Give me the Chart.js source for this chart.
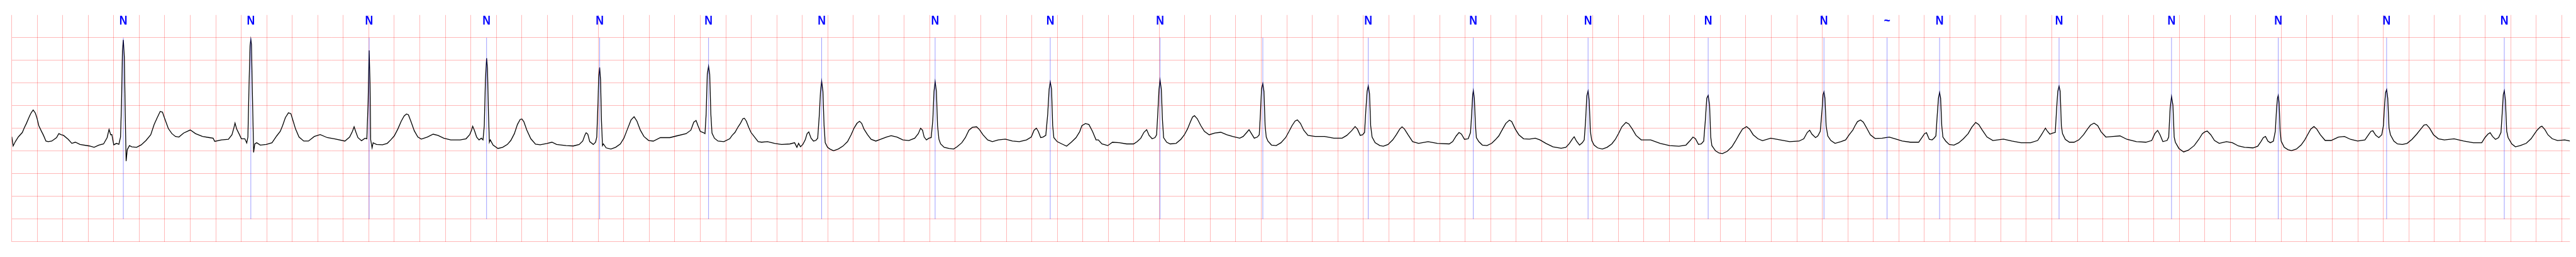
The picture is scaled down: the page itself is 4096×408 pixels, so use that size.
<!DOCTYPE html>
<html>
<head>
<meta charset="utf-8">
<script src="https://cdn.jsdelivr.net/npm/chart.js@4"></script>
<style>
  html, body { margin: 0; padding: 0; background: #ffffff; }
  #c { display: block; }
</style>
</head>
<body>
<canvas id="c" width="4096" height="408"></canvas>
<script>
// ---- data (time in s, amplitude in mV) ----
const ecgTime = [
0.000,0.011,0.028,0.052,0.083,0.098,0.115,0.139,0.153,0.168,0.185,0.198,0.212,0.231,0.249,0.268,0.286,0.314,0.351,0.369,
0.388,0.406,0.443,0.471,0.499,0.536,0.609,0.646,0.683,0.720,0.748,0.763,0.776,0.785,0.800,0.822,0.840,0.853,0.861,0.868,
0.875,0.883,0.890,0.897,0.906,0.923,0.942,0.979,1.016,1.053,1.090,1.117,1.141,1.164,1.182,1.200,1.228,1.256,1.284,1.311,
1.348,1.400,1.441,1.496,1.551,1.579,1.592,1.644,1.699,1.727,1.742,1.751,1.764,1.782,1.801,1.828,1.843,1.852,1.862,1.869,
1.875,1.880,1.887,1.897,1.906,1.921,1.949,1.995,2.041,2.078,2.106,2.124,2.146,2.170,2.189,2.207,2.226,2.253,2.290,2.327,
2.373,2.419,2.475,2.530,2.613,2.650,2.672,2.685,2.700,2.715,2.743,2.771,2.785,2.795,2.803,2.810,2.815,2.826,2.834,2.861,
2.908,2.945,2.972,3.000,3.028,3.055,3.078,3.096,3.111,3.133,3.157,3.185,3.212,3.259,3.305,3.342,3.388,3.443,3.517,3.563,
3.591,3.606,3.615,3.628,3.646,3.665,3.683,3.696,3.706,3.715,3.724,3.731,3.739,3.746,3.753,3.775,3.813,3.850,3.887,3.914,
3.942,3.966,3.988,4.001,4.016,4.040,4.071,4.108,4.145,4.200,4.237,4.274,4.348,4.404,4.450,4.478,4.496,4.505,4.518,4.533,
4.561,4.579,4.588,4.598,4.603,4.611,4.618,4.625,4.633,4.640,4.662,4.699,4.736,4.773,4.801,4.829,4.857,4.881,4.903,4.930,
4.958,4.995,5.032,5.087,5.161,5.215,5.289,5.326,5.349,5.367,5.382,5.400,5.422,5.437,5.446,5.455,5.465,5.474,5.483,5.492,
5.511,5.539,5.585,5.631,5.650,5.672,5.697,5.715,5.734,5.746,5.761,5.780,5.798,5.826,5.854,5.881,5.927,5.983,6.038,6.103,
6.140,6.158,6.171,6.186,6.204,6.223,6.238,6.251,6.269,6.288,6.306,6.321,6.334,6.343,6.352,6.362,6.371,6.380,6.398,6.417,
6.445,6.482,6.518,6.555,6.583,6.607,6.629,6.649,6.666,6.684,6.712,6.740,6.777,6.814,6.860,6.897,6.943,6.989,7.036,7.082,
7.110,7.128,7.143,7.156,7.174,7.193,7.211,7.224,7.233,7.242,7.252,7.261,7.272,7.285,7.313,7.350,7.387,7.414,7.451,7.479,
7.507,7.534,7.567,7.590,7.617,7.654,7.691,7.737,7.793,7.848,7.903,7.959,7.996,8.018,8.036,8.051,8.070,8.088,8.110,8.125,
8.136,8.145,8.155,8.164,8.173,8.199,8.236,8.273,8.310,8.347,8.375,8.393,8.421,8.448,8.476,8.504,8.522,8.550,8.596,8.633,
8.689,8.744,8.799,8.827,8.855,8.879,8.901,8.920,8.944,8.966,8.979,8.988,8.998,9.006,9.016,9.025,9.034,9.058,9.086,9.132,
9.169,9.197,9.221,9.243,9.261,9.276,9.298,9.326,9.354,9.391,9.437,9.483,9.529,9.575,9.631,9.658,9.686,9.704,9.723,9.745,
9.769,9.784,9.793,9.802,9.812,9.821,9.830,9.839,9.852,9.880,9.917,9.954,9.991,10.018,10.041,10.065,10.083,10.107,10.133,10.166,
10.222,10.296,10.369,10.434,10.471,10.508,10.536,10.554,10.576,10.595,10.610,10.621,10.630,10.639,10.649,10.658,10.669,10.693,10.730,10.757,
10.794,10.831,10.859,10.886,10.904,10.923,10.951,10.987,11.034,11.108,11.181,11.274,11.301,11.329,11.351,11.370,11.394,11.423,11.441,11.450,
11.458,11.463,11.471,11.480,11.487,11.506,11.534,11.570,11.607,11.635,11.663,11.690,11.718,11.746,11.764,11.792,11.820,11.857,11.903,11.949,
11.986,12.032,12.088,12.152,12.189,12.217,12.241,12.254,12.272,12.296,12.318,12.333,12.344,12.353,12.363,12.372,12.381,12.392,12.410,12.438,
12.475,12.512,12.549,12.577,12.604,12.628,12.660,12.682,12.710,12.739,12.780,12.854,12.928,13.002,13.076,13.131,13.164,13.186,13.205,13.229,
13.251,13.270,13.283,13.294,13.305,13.316,13.325,13.334,13.362,13.390,13.417,13.454,13.491,13.519,13.547,13.574,13.606,13.630,13.658,13.695,
13.731,13.796,13.870,13.944,14.018,14.055,14.082,14.101,14.119,14.147,14.165,14.184,14.199,14.206,14.213,14.221,14.230,14.243,14.267,14.300,
14.346,14.383,14.411,14.439,14.457,14.476,14.500,14.522,14.550,14.577,14.614,14.670,14.725,14.771,14.827,14.891,14.956,14.984,15.002,15.017,
15.039,15.061,15.076,15.091,15.102,15.111,15.120,15.128,15.137,15.146,15.168,15.196,15.233,15.270,15.307,15.344,15.372,15.403,15.427,15.455,
15.492,15.538,15.621,15.686,15.759,15.833,15.889,15.916,15.935,15.950,15.966,15.985,16.009,16.027,16.038,16.047,16.057,16.066,16.075,16.084,
16.106,16.138,16.175,16.212,16.249,16.280,16.304,16.332,16.360,16.387,16.424,16.480,16.535,16.590,16.664,16.738,16.784,16.808,16.830,16.849,
16.871,16.904,16.917,16.928,16.939,16.950,16.960,16.969,16.997,17.034,17.071,17.117,17.153,17.181,17.200,17.219,17.247,17.276,17.313,17.370,
17.417,17.464,17.512,17.578,17.615,17.640,17.659,17.676,17.695,17.714,17.738,17.753,17.763,17.770,17.776,17.783,17.791,17.799,17.823,17.852,
17.880,17.918,17.955,17.984,18.006,18.031,18.056,18.078,18.106,18.144,18.191,18.248,18.295,18.343,18.399,18.456,18.484,18.503,18.518,18.541,
18.565,18.588,18.601,18.611,18.618,18.626,18.635,18.645,18.656,18.683,18.711,18.749,18.787,18.825,18.862,18.890,18.919,18.938,18.962,18.994,
19.032,19.079,19.155,19.230,19.306,19.372,19.397,19.420,19.438,19.457,19.480,19.504,19.523,19.532,19.541,19.549,19.558,19.568,19.579,19.608,
19.636,19.674,19.721,19.759,19.787,19.806,19.831,19.844,19.868,19.891,19.925,19.967,20.023,20.064
];
const ecgValue = [
-0.184,-0.388,-0.292,-0.186,-0.090,0.010,0.110,0.267,0.348,0.406,0.338,0.224,0.060,-0.053,-0.154,-0.280,-0.292,-0.280,-0.204,-0.116,
-0.141,-0.154,-0.242,-0.330,-0.305,-0.355,-0.388,-0.418,-0.368,-0.343,-0.204,-0.023,-0.141,-0.136,-0.363,-0.330,-0.350,-0.194,0.562,1.698,
1.950,1.572,0.312,-0.720,-0.469,-0.380,-0.406,-0.418,-0.363,-0.267,-0.141,0.086,0.237,0.373,0.358,0.212,-0.003,-0.116,-0.179,-0.191,
-0.103,-0.035,-0.116,-0.179,-0.204,-0.217,-0.287,-0.254,-0.242,-0.141,0.010,0.118,-0.015,-0.116,-0.229,-0.229,-0.322,-0.191,1.068,1.824,
1.962,1.849,0.816,-0.531,-0.343,-0.317,-0.368,-0.355,-0.317,-0.166,-0.065,0.060,0.237,0.343,0.325,0.161,-0.015,-0.191,-0.280,-0.280,
-0.179,-0.136,-0.204,-0.229,-0.280,-0.191,-0.065,0.035,-0.090,-0.204,-0.272,-0.217,-0.230,0.600,1.720,1.000,-0.250,-0.430,-0.317,-0.355,
-0.363,-0.330,-0.254,-0.166,-0.015,0.161,0.275,0.318,0.300,0.136,-0.053,-0.191,-0.237,-0.191,-0.128,-0.154,-0.217,-0.254,-0.254,-0.229,
-0.141,-0.040,0.048,-0.040,-0.191,-0.254,-0.217,-0.254,0.060,1.068,1.547,1.320,0.312,-0.305,-0.254,-0.368,-0.443,-0.418,-0.355,-0.267,
-0.116,0.086,0.199,0.207,0.149,-0.040,-0.229,-0.350,-0.363,-0.330,-0.305,-0.355,-0.380,-0.388,-0.355,-0.280,-0.141,-0.096,-0.128,-0.292,
-0.355,-0.305,-0.191,0.564,1.118,1.345,1.068,0.186,-0.380,-0.343,-0.430,-0.456,-0.418,-0.343,-0.217,-0.015,0.186,0.257,0.161,-0.040,
-0.179,-0.267,-0.280,-0.204,-0.204,-0.166,-0.116,-0.040,0.136,0.174,0.060,-0.065,-0.090,-0.116,0.312,1.194,1.370,1.194,0.312,-0.103,
-0.217,-0.280,-0.292,-0.229,-0.154,-0.090,0.035,0.111,0.212,0.224,0.161,0.023,-0.090,-0.191,-0.292,-0.305,-0.292,-0.330,-0.355,-0.343,
-0.317,-0.418,-0.330,-0.406,-0.355,-0.254,-0.116,-0.078,-0.217,-0.280,-0.267,-0.217,0.312,0.816,1.043,0.816,0.060,-0.317,-0.418,-0.456,
-0.494,-0.456,-0.393,-0.292,-0.141,0.010,0.111,0.156,0.111,-0.015,-0.141,-0.242,-0.280,-0.242,-0.191,-0.161,-0.191,-0.254,-0.267,-0.217,
-0.116,0.003,-0.040,-0.191,-0.254,-0.217,-0.204,0.186,0.816,1.030,0.816,0.060,-0.242,-0.343,-0.418,-0.443,-0.456,-0.406,-0.317,-0.204,
-0.040,0.023,0.035,-0.028,-0.141,-0.254,-0.292,-0.254,-0.237,-0.280,-0.292,-0.254,-0.191,-0.040,0.005,-0.065,-0.204,-0.191,-0.154,0.312,
0.866,1.023,0.866,0.060,-0.204,-0.292,-0.343,-0.393,-0.305,-0.204,-0.078,0.060,0.106,0.086,-0.065,-0.254,-0.254,-0.343,-0.380,-0.305,
-0.317,-0.343,-0.343,-0.292,-0.217,-0.090,-0.028,-0.154,-0.229,-0.204,-0.141,0.312,0.866,1.068,0.866,0.186,-0.204,-0.305,-0.343,-0.330,
-0.242,-0.141,-0.015,0.136,0.250,0.280,0.212,0.060,-0.065,-0.141,-0.103,-0.086,-0.141,-0.179,-0.217,-0.179,-0.090,-0.028,-0.116,-0.217,
-0.191,-0.141,0.312,0.866,0.987,0.816,0.060,-0.191,-0.280,-0.368,-0.380,-0.317,-0.204,-0.065,0.060,0.161,0.186,0.111,-0.040,-0.154,
-0.179,-0.179,-0.217,-0.217,-0.154,-0.053,0.040,-0.015,-0.154,-0.141,-0.090,0.438,0.816,0.937,0.766,0.060,-0.191,-0.317,-0.380,-0.393,
-0.355,-0.254,-0.141,-0.015,0.035,-0.015,-0.141,-0.292,-0.330,-0.292,-0.330,-0.343,-0.292,-0.166,-0.090,-0.128,-0.242,-0.229,-0.090,0.312,
0.741,0.834,0.665,0.060,-0.204,-0.292,-0.368,-0.380,-0.330,-0.254,-0.166,-0.028,0.111,0.181,0.149,-0.015,-0.141,-0.229,-0.237,-0.217,
-0.254,-0.330,-0.406,-0.438,-0.418,-0.330,-0.229,-0.186,-0.280,-0.368,-0.317,-0.254,0.186,0.715,0.824,0.615,-0.065,-0.267,-0.368,-0.430,
-0.456,-0.418,-0.343,-0.242,-0.103,0.035,0.131,0.098,-0.015,-0.154,-0.254,-0.254,-0.330,-0.380,-0.393,-0.368,-0.267,-0.191,-0.229,-0.355,
-0.343,-0.280,0.186,0.665,0.728,0.514,-0.191,-0.380,-0.494,-0.544,-0.557,-0.506,-0.406,-0.280,-0.141,-0.015,0.040,-0.015,-0.141,-0.229,
-0.272,-0.217,-0.254,-0.292,-0.280,-0.229,-0.090,-0.040,-0.128,-0.204,-0.166,-0.065,0.438,0.741,0.804,0.665,0.060,-0.166,-0.267,-0.330,
-0.292,-0.254,-0.141,-0.040,0.060,0.149,0.186,0.136,-0.003,-0.141,-0.222,-0.217,-0.191,-0.229,-0.280,-0.305,-0.305,-0.191,-0.116,-0.096,
-0.242,-0.254,-0.217,-0.166,0.312,0.665,0.791,0.665,0.060,-0.191,-0.280,-0.355,-0.368,-0.317,-0.229,-0.116,0.023,0.131,0.086,-0.040,
-0.191,-0.267,-0.237,-0.280,-0.317,-0.317,-0.267,-0.154,-0.065,0.005,-0.065,-0.128,-0.103,-0.090,0.438,0.816,0.929,0.816,0.060,-0.116,
-0.242,-0.305,-0.305,-0.254,-0.141,-0.015,0.073,0.116,0.060,-0.078,-0.191,-0.179,-0.166,-0.242,-0.292,-0.305,-0.267,-0.116,-0.045,-0.141,
-0.292,-0.267,-0.191,0.438,0.703,0.514,-0.191,-0.305,-0.443,-0.519,-0.481,-0.380,-0.242,-0.116,-0.078,-0.060,-0.141,-0.267,-0.330,-0.292,
-0.317,-0.388,-0.418,-0.430,-0.393,-0.292,-0.204,-0.179,-0.280,-0.317,-0.280,-0.065,0.438,0.665,0.728,0.564,-0.065,-0.280,-0.418,-0.469,
-0.489,-0.456,-0.368,-0.254,-0.141,-0.015,0.040,-0.015,-0.141,-0.267,-0.267,-0.191,-0.179,-0.242,-0.280,-0.254,-0.141,-0.065,-0.053,-0.154,
-0.204,-0.141,0.060,0.564,0.791,0.854,0.665,0.010,-0.141,-0.280,-0.343,-0.355,-0.330,-0.242,-0.128,-0.028,0.073,0.086,0.010,-0.141,
-0.229,-0.254,-0.229,-0.280,-0.317,-0.317,-0.204,-0.128,-0.096,-0.179,-0.242,-0.204,-0.090,0.312,0.741,0.829,0.615,-0.065,-0.204,-0.343,
-0.406,-0.380,-0.330,-0.229,-0.116,-0.040,0.030,0.048,-0.028,-0.141,-0.229,-0.267,-0.254,-0.280
];
// beat annotations (time in s) and their symbols
const beatTimes  = [0.875,1.875,2.803,3.724,4.611,5.465,6.352,7.242,8.145,9.006,9.812,10.639,11.463,12.363,13.305,14.213,14.708,15.120,16.057,16.939,17.776,18.626,19.549];
const beatLabels = ['N','N','N','N','N','N','N','N','N','N','','N','N','N','N','N','~','N','N','N','N','N','N'];
// axis ranges / grid steps
const xMin = 0, xMax = 20.064, xStep = 0.2;
const yMin = -2.5, yMax = 2.5, yStep = 0.5;
const markTop = 2.0, markBottom = -2.0, labelBase = 2.295;

// ---- chart ----
const points = ecgTime.map((t, i) => ({ x: t, y: ecgValue[i] }));
const gridColor = 'rgba(255,0,0,0.28)';

const beatMarks = {
  id: 'beatMarks',
  afterDatasetsDraw(chart) {
    const { ctx, scales: { x, y } } = chart;
    const yTop = y.getPixelForValue(markTop);
    const yBot = y.getPixelForValue(markBottom);
    const yLab = y.getPixelForValue(labelBase);
    ctx.save();
    ctx.strokeStyle = 'rgba(0,0,255,0.65)';
    ctx.lineWidth = 0.6;
    beatTimes.forEach((t) => {
      const px = x.getPixelForValue(t);
      ctx.beginPath();
      ctx.moveTo(px, yTop);
      ctx.lineTo(px, yBot);
      ctx.stroke();
    });
    ctx.fillStyle = '#0000ff';
    ctx.font = 'bold 20px "Liberation Sans", Arial, sans-serif';
    ctx.textAlign = 'center';
    ctx.textBaseline = 'alphabetic';
    beatTimes.forEach((t, i) => {
      if (!beatLabels[i]) return;
      const px = x.getPixelForValue(t);
      ctx.save();
      ctx.translate(px, yLab);
      ctx.scale(0.88, 1);
      ctx.fillText(beatLabels[i], 0, 0);
      ctx.restore();
    });
    ctx.restore();
  }
};

new Chart(document.getElementById('c'), {
  type: 'line',
  data: {
    datasets: [{
      data: points,
      borderColor: '#000000',
      borderWidth: 1.3,
      pointRadius: 0,
      tension: 0,
      fill: false
    }]
  },
  options: {
    responsive: false,
    animation: false,
    devicePixelRatio: 1,
    parsing: false,
    normalized: true,
    layout: { padding: { left: 18.7, right: 9.6, top: 23.8, bottom: 24.2 } },
    plugins: { legend: { display: false }, tooltip: { enabled: false } },
    scales: {
      x: {
        type: 'linear',
        min: xMin, max: xMax,
        border: { display: false },
        ticks: { display: false, stepSize: xStep, includeBounds: false },
        grid: { color: gridColor, lineWidth: 1, drawTicks: false }
      },
      y: {
        type: 'linear',
        min: yMin, max: yMax,
        border: { display: false },
        ticks: { display: false, stepSize: yStep },
        grid: {
          color: (c) => (c.tick && Math.abs(c.tick.value - yMax) < 1e-9) ? 'rgba(0,0,0,0)' : gridColor,
          lineWidth: 1, drawTicks: false
        }
      }
    }
  },
  plugins: [beatMarks]
});
</script>
</body>
</html>
